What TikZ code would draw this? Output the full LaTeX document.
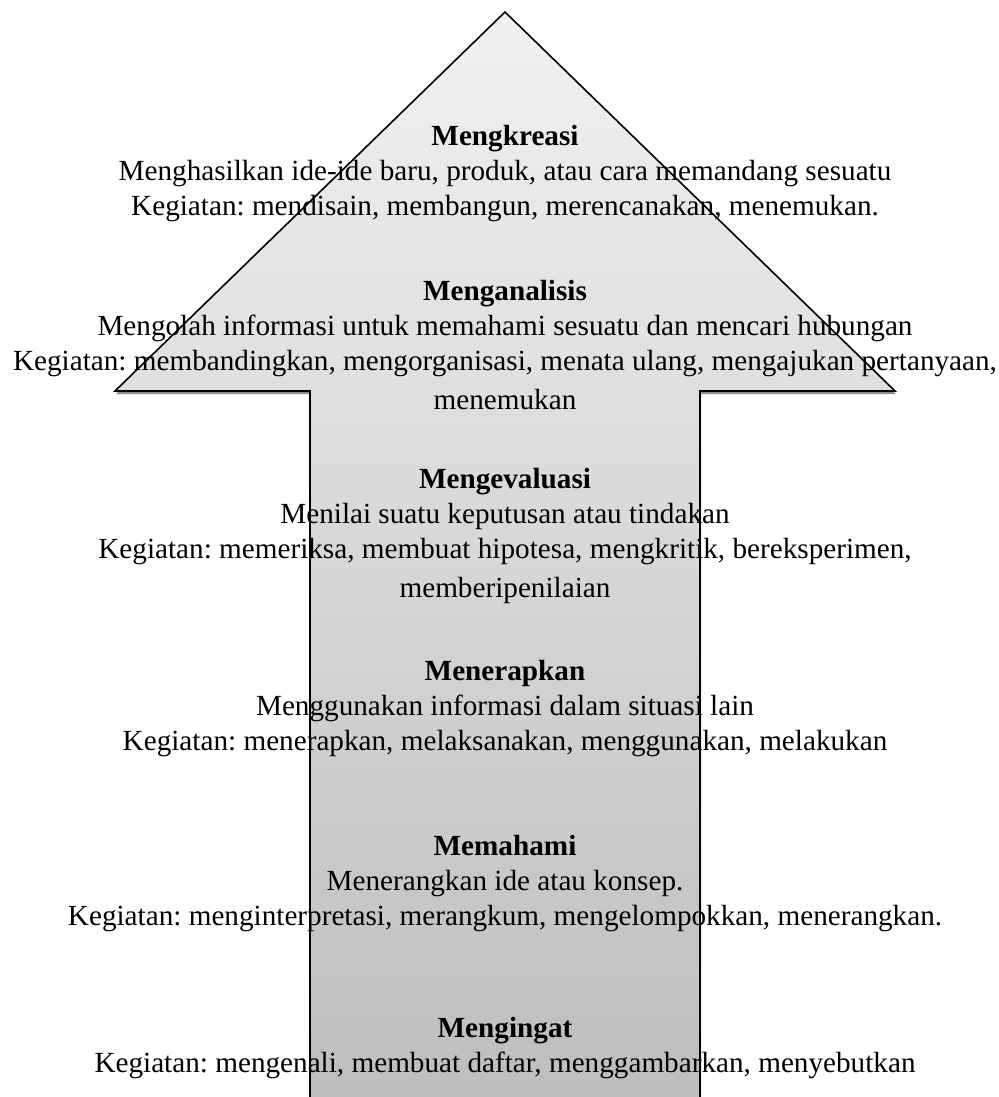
\documentclass[tikz,border=0pt]{standalone}
\usepackage{fontspec}
\setmainfont{Liberation Serif}
\frenchspacing
\definecolor{arrowtop}{RGB}{241,241,241}
\definecolor{arrowbot}{RGB}{189,189,189}
\definecolor{arrowshadow}{RGB}{140,140,140}
\tikzset{
  level/.style={anchor=north, align=center, inner sep=0pt,
    font=\fontsize{14.6}{17.5}\selectfont},
  arrowline/.style={line width=0.8pt, line join=miter},
}
\newcommand{\tahap}[1]{\textbf{#1}}
\def\arrowpath{(310,1110) -- (310,391) -- (115,391) -- (505,12) -- (895,391) -- (700,391) -- (700,1110)}

\begin{document}
\begin{tikzpicture}[x=0.5pt, y=-0.5pt]
  \useasboundingbox (0,0) rectangle (998,1097);
  \begin{scope}
    \clip (0,0) rectangle (998,1097);
    % arrow with its shadow
    \fill[arrowshadow, xshift=0.5pt, yshift=-1.5pt] \arrowpath -- cycle;
    \shade[top color=arrowtop, bottom color=arrowbot] \arrowpath -- cycle;
    \draw[arrowline] \arrowpath;
  \end{scope}
  % levels, top to bottom
  \node[level] (kreasi) at (505,125) {\tahap{Mengkreasi}\\
    Menghasilkan ide-ide baru, produk, atau cara memandang sesuatu\\
    Kegiatan: mendisain, membangun, merencanakan, menemukan.};
  \node[level] (analisis) at (505,280) {\tahap{Menganalisis}\\
    Mengolah informasi untuk memahami sesuatu dan mencari hubungan\\
    Kegiatan: membandingkan, mengorganisasi, menata ulang, mengajukan pertanyaan,\\[2pt]
    menemukan};
  \node[level] (evaluasi) at (505,468) {\tahap{Mengevaluasi}\\
    Menilai suatu keputusan atau tindakan\\
    Kegiatan: memeriksa, membuat hipotesa, mengkritik, bereksperimen,\\[2pt]
    memberipenilaian};
  \node[level] (terapkan) at (505,660) {\tahap{Menerapkan}\\
    Menggunakan informasi dalam situasi lain\\
    Kegiatan: menerapkan, melaksanakan, menggunakan, melakukan};
  \node[level] (pahami) at (505,835) {\tahap{Memahami}\\
    Menerangkan ide atau konsep.\\
    Kegiatan: menginterpretasi, merangkum, mengelompokkan, menerangkan.};
  \node[level] (ingat) at (505,1017) {\tahap{Mengingat}\\
    Kegiatan: mengenali, membuat daftar, menggambarkan, menyebutkan};
\end{tikzpicture}
\end{document}
